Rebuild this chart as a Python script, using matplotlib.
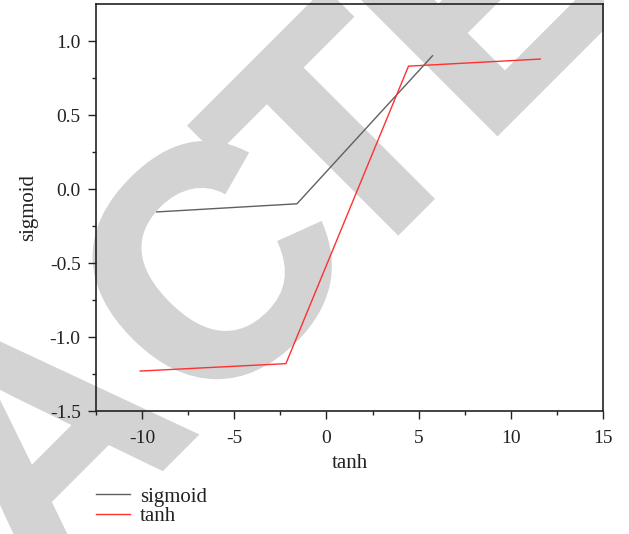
import matplotlib
matplotlib.use('Agg')
import numpy as np
import matplotlib.pyplot as plt
import matplotlib.patheffects as pe
from matplotlib.patches import Rectangle
from matplotlib.transforms import IdentityTransform

# valores
sig_x = [-9.2, -1.6, 5.75]
sig_y = [-0.155, -0.10, 0.90]
tanh_x = [-10.1, -2.2, 4.45, 11.6]
tanh_y = [-1.23, -1.18, 0.83, 0.878]
xticks = [-10, -5, 0, 5, 10, 15]
yticks = [-1.5, -1.0, -0.5, 0.0, 0.5, 1.0]

plt.rcParams['font.family'] = ['Liberation Serif', 'DejaVu Serif']

W, H = 629, 534
fig = plt.figure(figsize=(W/100, H/100), dpi=100)

# marca de agua "RETRACTED" (letras sueltas a 45 grados, detras de todo)
wm_letras = ['R', 'A', 'C', 'T', 'E']
wm_u = [-500, -278, -40, 141, 344]   # posicion a lo largo de la linea base (px)
base = 630                           # x + y de la linea base (px)
clip = Rectangle((0, 0), 604, H, transform=IdentityTransform())
for letra, u in zip(wm_letras, wm_u):
    px = (base + u*np.sqrt(2))/2
    py = (base - u*np.sqrt(2))/2
    t = fig.text(px/W, 1-py/H, letra, rotation=45, fontsize=232,
                 color='#d3d3d3', fontweight='bold', family='Liberation Sans',
                 ha='center', va='baseline', rotation_mode='anchor', zorder=0)
    t.set_path_effects([pe.withStroke(linewidth=4, foreground='#d3d3d3',
                                      joinstyle='miter')])
    t.set_clip_path(clip)

ax = fig.add_axes([96/W, 1-411/H, 507/W, 407/H])
ax.set_zorder(1)
ax.patch.set_alpha(0)
ax.plot(sig_x, sig_y, color='#606060', linewidth=1, label='sigmoid')
ax.plot(tanh_x, tanh_y, color='#ff3030', linewidth=1, label='tanh')
ax.set_xlim(-12.5, 15)
ax.set_ylim(-1.5, 1.25)
ax.set_xticks(xticks)
ax.set_xticklabels(['-10', '-5', '0', '5', '10', '15'])
ax.set_yticks(yticks)
ax.set_yticklabels(['-1.5', '-1.0', '-0.5', '0.0', '0.5', '1.0'])
ax.set_xticks([-12.5, -7.5, -2.5, 2.5, 7.5, 12.5], minor=True)
ax.set_yticks([-1.25, -0.75, -0.25, 0.25, 0.75], minor=True)
ax.tick_params(direction='out', length=6, width=1, color='#222222',
               labelcolor='#222222', labelsize=14, pad=5)
ax.tick_params(axis='x', pad=8)
ax.tick_params(which='minor', direction='out', length=3, width=1, color='#222222')
for s in ax.spines.values():
    s.set_linewidth(1.2)
    s.set_color('#222222')
ax.set_xlabel('tanh', color='#222222', fontsize=15, labelpad=5)
ax.set_ylabel('sigmoid', color='#222222', fontsize=15, labelpad=8)
fig.legend(loc='upper left', bbox_to_anchor=(96/W, 1-487/H), frameon=False,
           handlelength=1.65, handletextpad=0.45, labelspacing=0.0, borderpad=0,
           borderaxespad=0, labelcolor='#222222', fontsize=15)
fig.savefig('out.png', dpi=100)
